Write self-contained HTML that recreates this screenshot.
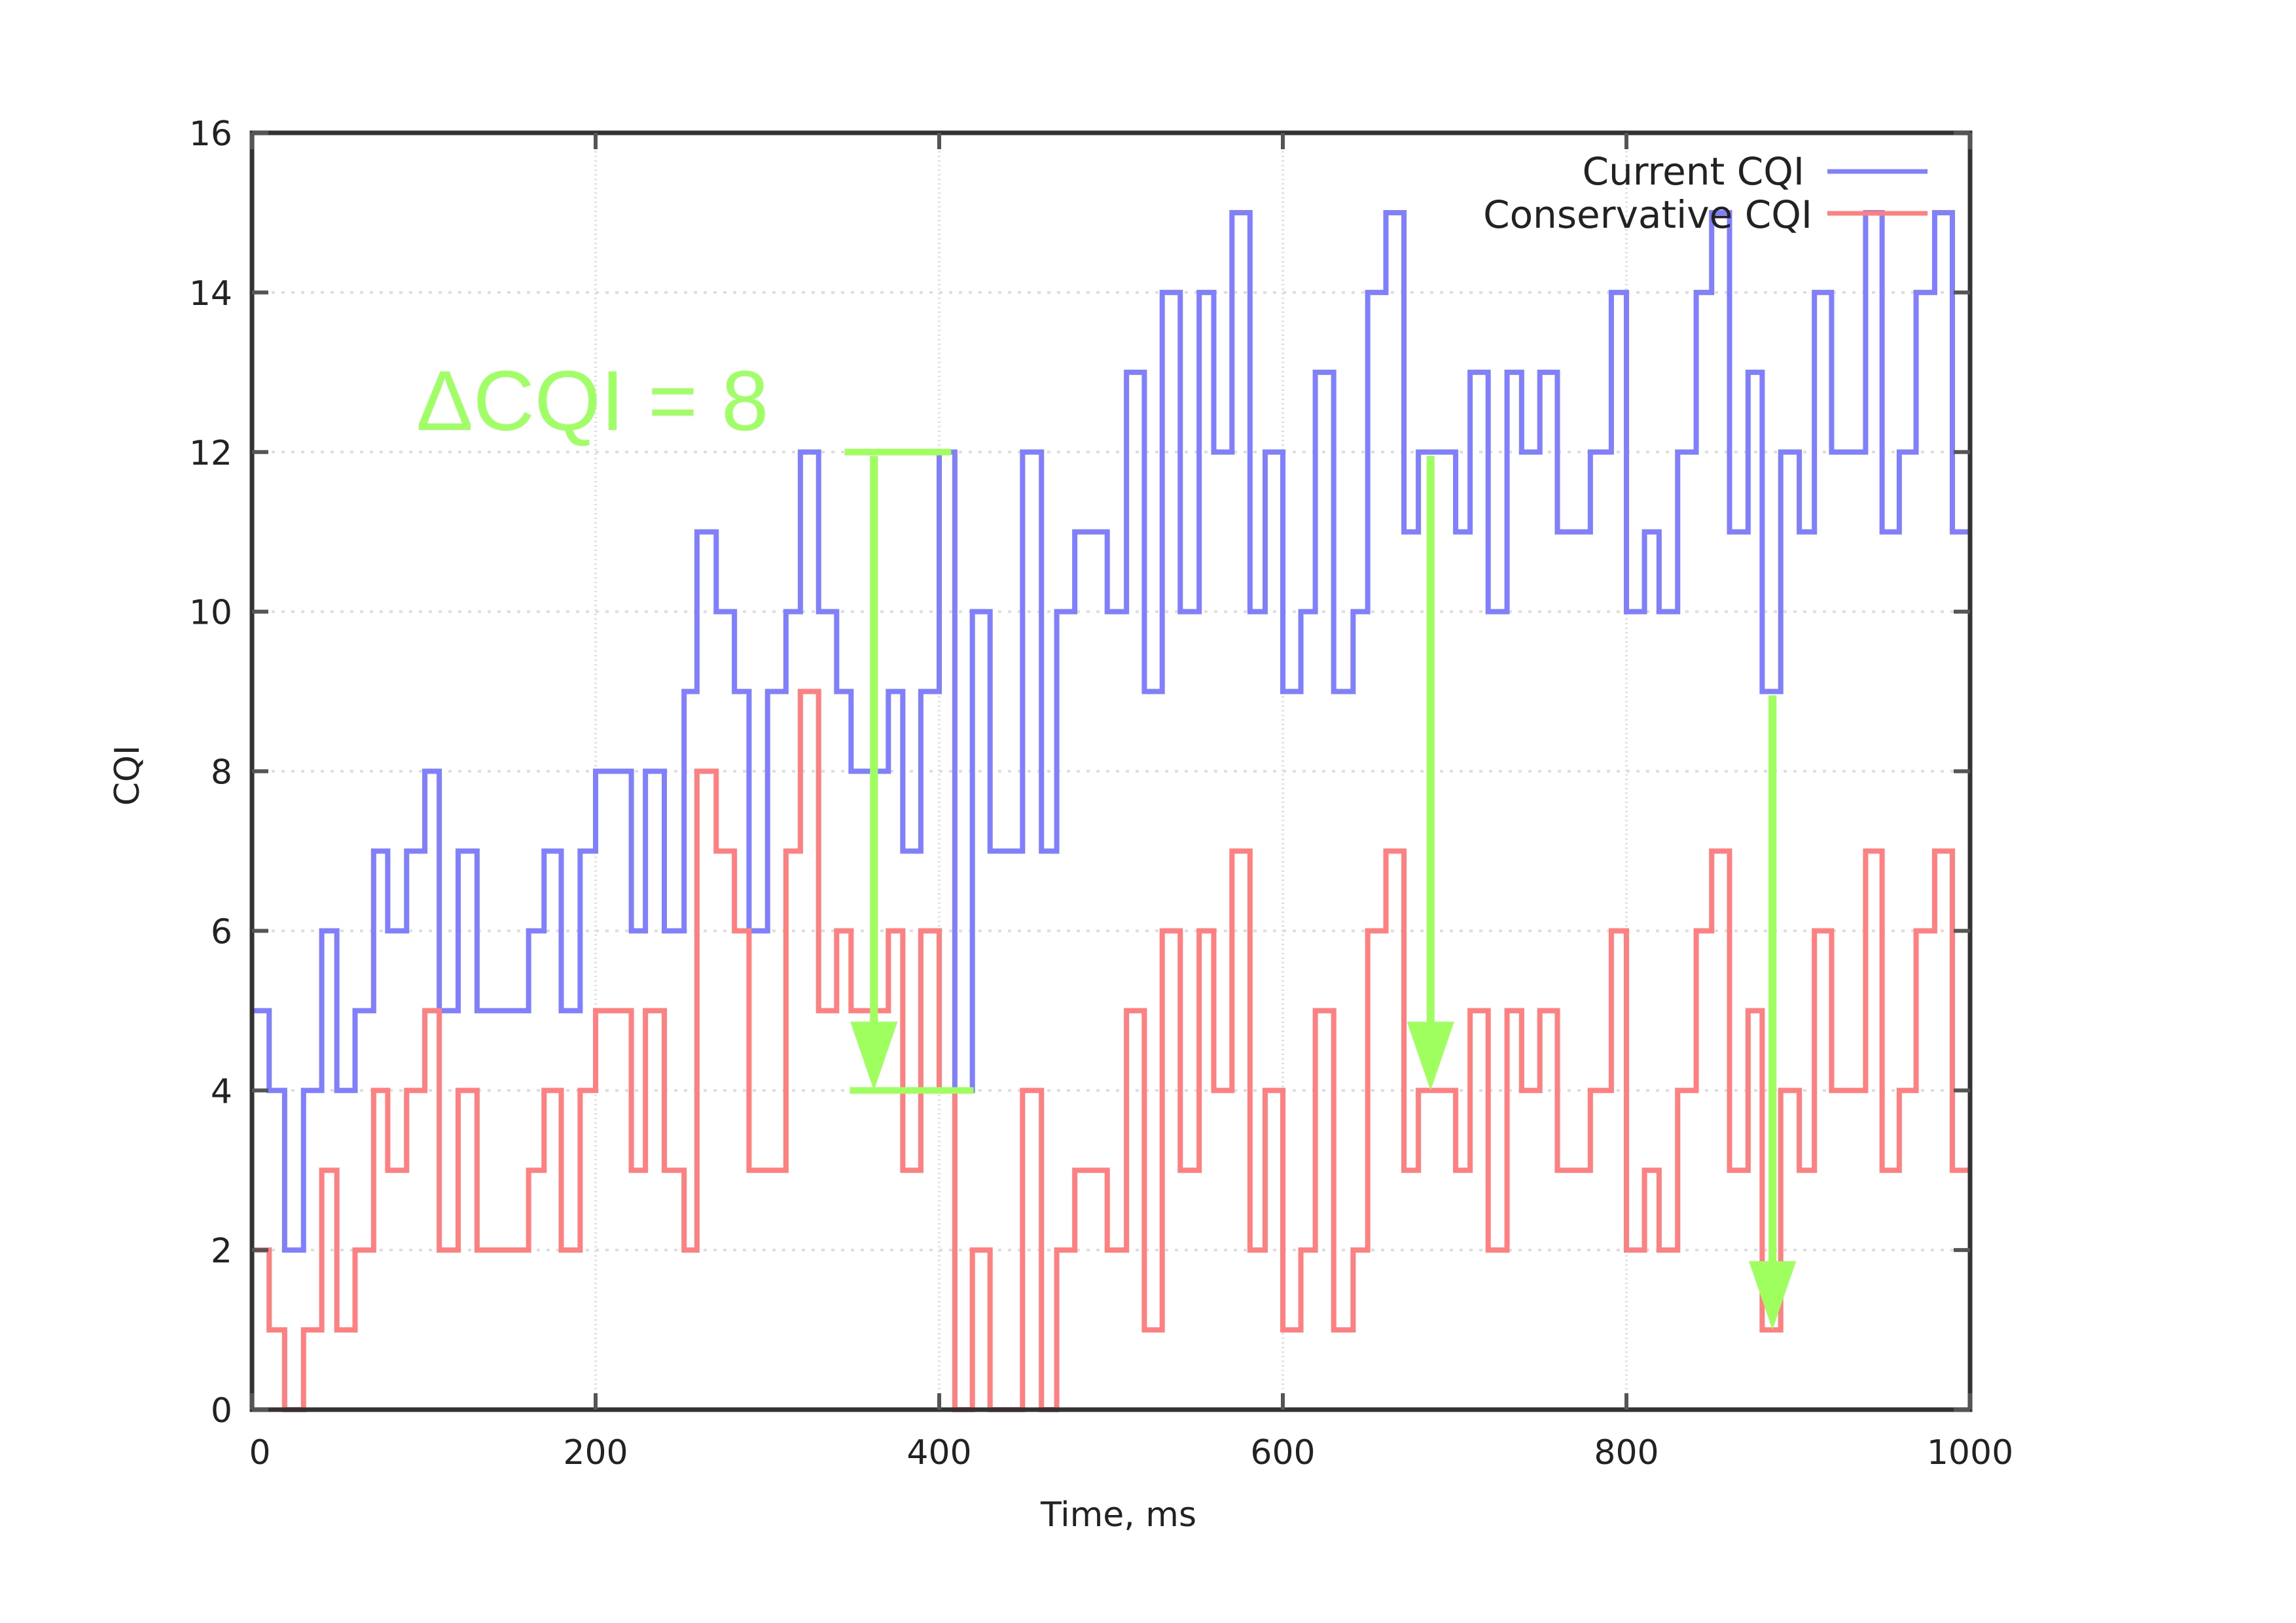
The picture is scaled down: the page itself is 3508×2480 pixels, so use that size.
<!DOCTYPE html>
<html>
<head>
<meta charset="utf-8">
<style>
html,body{margin:0;padding:0;background:#fff;}
svg{display:block;}
text{font-family:"DejaVu Sans","Liberation Sans",sans-serif;}
</style>
</head>
<body>
<svg id="chart" width="3508" height="2480" viewBox="0 0 3508 2480" xmlns="http://www.w3.org/2000/svg">
  <rect x="0" y="0" width="3508" height="2480" fill="#fff"/>
  <g id="grid"></g>
  <g id="series"></g>
  <g id="annot"></g>
  <g id="axes"></g>
  <text x="1709" y="2332" font-size="52" text-anchor="middle" fill="#222">Time, ms</text>
  <text x="0" y="0" font-size="52" text-anchor="middle" fill="#222" transform="translate(212,1185) rotate(-90)">CQI</text>
  <text x="636" y="657" font-size="130" fill="#a0ff66" style="font-family:'Liberation Sans',sans-serif">ΔCQI = 8</text>
  <g>
    <text x="2757" y="282" font-size="58" text-anchor="end" fill="#222">Current CQI</text>
    <line x1="2792" y1="262" x2="2945" y2="262" stroke="#8080ff" stroke-width="7"/>
    <text x="2769" y="348" font-size="58" text-anchor="end" fill="#222">Conservative CQI</text>
    <line x1="2792" y1="326" x2="2945" y2="326" stroke="#ff8080" stroke-width="7"/>
  </g>
</svg>
<script>
// Current CQI step breakpoints (ms) and values
const curTimes = [0,10,19,30,40.6,49.4,60,70.8,79,90,100.6,109,120,131,161,170,180,191,200,220.8,229,240,251.5,259,270.2,280.8,289.3,300.1,310.8,319.2,329.8,340.3,348.7,370.4,378.8,389.3,400,409.1,419.3,429.6,448.5,459.5,468.4,478.9,497.8,509,519.4,529.8,540.3,551.3,559.8,570.4,580.9,589.7,600,610.5,618.9,629.6,640.9,649.4,660,670.5,678.9,700.6,709,719.5,730.5,739,749.6,759.8,779,791.2,800,810.5,819,829.8,840.6,849.6,860,870.8,879,889.8,900.6,909.4,919.4,939.2,948.8,958.8,968.6,979.4,989.7,1000];
const curValues = [5,4,2,4,6,4,5,7,6,7,8,5,7,5,6,7,5,7,8,6,8,6,9,11,10,9,6,9,10,12,10,9,8,9,7,9,12,4,10,7,12,7,10,11,10,13,9,14,10,14,12,15,10,12,9,10,13,9,10,14,15,11,12,11,13,10,13,12,13,11,12,14,10,11,10,12,14,15,11,13,9,12,11,14,12,15,11,12,14,15,11];
// Conservative CQI step breakpoints (ms) and values
const consTimes = [0,10,19,30,40.6,49.4,60,70.8,79,90,100.6,109,120,131,161,170,180,191,200,220.8,229,240,251.5,259,270.2,280.8,289.3,310.8,319.2,329.8,340.3,348.7,370.4,378.8,389.3,400,409.1,419.3,429.6,448.5,459.5,468.4,478.9,497.8,509,519.4,529.8,540.3,551.3,559.8,570.4,580.9,589.7,600,610.5,618.9,629.6,640.9,649.4,660,670.5,678.9,700.6,709,719.5,730.5,739,749.6,759.8,779,791.2,800,810.5,819,829.8,840.6,849.6,860,870.8,879,889.8,900.6,909.4,919.4,939.2,948.8,958.8,968.6,979.4,989.7,1000];
const consValues = [2,1,0,1,3,1,2,4,3,4,5,2,4,2,3,4,2,4,5,3,5,3,2,8,7,6,3,7,9,5,6,5,6,3,6,4,0,2,0,4,0,2,3,2,5,1,6,3,6,4,7,2,4,1,2,5,1,2,6,7,3,4,3,5,2,5,4,5,3,4,6,2,3,2,4,6,7,3,5,1,4,3,6,4,7,3,4,6,7,3];
const yTicks = [0,2,4,6,8,10,12,14,16];
const xTicks = [0,200,400,600,800,1000];
// annotation arrows: [time, fromValue, toValue]
const arrowTimes = [362,686,885];
const arrowFrom = [12,12,9];
const arrowTo = [4,4,1];

const X0=385, X1=3010, Y0=2154, Y1=203;
const xs = t => X0 + (t/1000)*(X1-X0);
const ys = v => Y0 - (v/16)*(Y0-Y1);
const NS='http://www.w3.org/2000/svg';
function mk(tag, attrs, parent){const e=document.createElementNS(NS,tag);for(const k in attrs)e.setAttribute(k,attrs[k]);parent.appendChild(e);return e;}

const grid=document.getElementById('grid');
yTicks.forEach(v=>{ if(v===0||v===16) return;
  const l=mk('line',{x1:X0,x2:X1,y1:ys(v),y2:ys(v),stroke:'#ddd','stroke-width':4,'stroke-dasharray':'5 10'},grid);
  
  
});
xTicks.forEach(t=>{ if(t===0||t===1000) return;
  const l=mk('line',{x1:xs(t),x2:xs(t),y1:Y1,y2:Y0,stroke:'#ddd','stroke-width':4,'stroke-dasharray':'2 5'},grid);
  
  
});

function stepPath(times, vals){
  let d='M'+xs(times[0])+' '+ys(vals[0]);
  for(let i=0;i<vals.length;i++){
    d+=' L'+xs(times[i+1])+' '+ys(vals[i]);
    if(i+1<vals.length) d+=' L'+xs(times[i+1])+' '+ys(vals[i+1]);
  }
  return d;
}
const series=document.getElementById('series');
const pc=mk('path',{d:stepPath(curTimes,curValues),fill:'none',stroke:'#8080ff','stroke-width':8,'stroke-linejoin':'miter'},series);


const pr=mk('path',{d:stepPath(consTimes,consValues),fill:'none',stroke:'#ff8080','stroke-width':8,'stroke-linejoin':'miter'},series);



const annot=document.getElementById('annot');
const g='#9eff5e';
const b1=mk('line',{x1:xs(345),x2:xs(407),y1:ys(12),y2:ys(12),stroke:g,'stroke-width':10},annot);


const b2=mk('line',{x1:xs(348),x2:xs(420),y1:ys(4),y2:ys(4),stroke:g,'stroke-width':10},annot);


arrowTimes.forEach((t,i)=>{
  const x=xs(t), ya=ys(arrowFrom[i]), yb=ys(arrowTo[i]);
  const s=mk('line',{x1:x,x2:x,y1:ya+6,y2:yb-90,stroke:g,'stroke-width':12},annot);
  
  
  const h=mk('polygon',{points:(x-36)+','+(yb-105)+' '+(x+36)+','+(yb-105)+' '+x+','+yb,fill:g},annot);
  
  
});

const axes=document.getElementById('axes');
const fr=mk('rect',{x:X0,y:Y1,width:X1-X0,height:Y0-Y1,fill:'none',stroke:'#333','stroke-width':7},axes);


yTicks.forEach(v=>{
  const y=ys(v);
  const t1=mk('line',{x1:X0,x2:X0+25,y1:y,y2:y,stroke:'#555','stroke-width':6},axes);
  
  
  const t2=mk('line',{x1:X1-25,x2:X1,y1:y,y2:y,stroke:'#555','stroke-width':6},axes);
  
  
  const lb=mk('text',{x:355,y:y+19,'font-size':52,'text-anchor':'end',fill:'#222'},axes);
  lb.textContent=String(v);
  
  
});
xTicks.forEach(t=>{
  const x=xs(t);
  const t1=mk('line',{x1:x,x2:x,y1:Y0,y2:Y0-25,stroke:'#555','stroke-width':6},axes);
  
  
  const t2=mk('line',{x1:x,x2:x,y1:Y1,y2:Y1+25,stroke:'#555','stroke-width':6},axes);
  
  
  const lb=mk('text',{x:x+(t===0?12:0),y:2237,'font-size':52,'text-anchor':'middle',fill:'#222'},axes);
  lb.textContent=String(t);
  
  
});
</script>
</body>
</html>
